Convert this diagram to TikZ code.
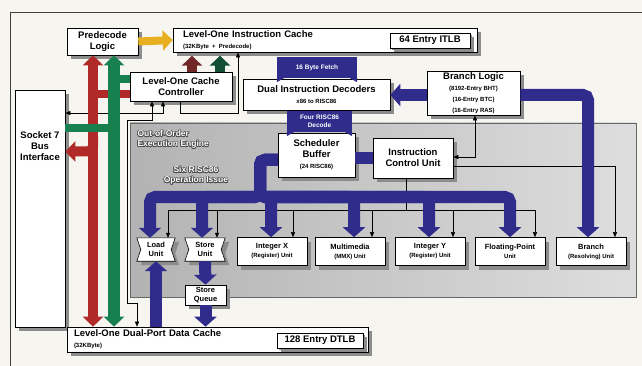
\documentclass[tikz,border=0pt]{standalone}
\usepackage{fontspec}
\setmainfont{Liberation Sans}
\usepackage{contour}
\usetikzlibrary{positioning, arrows.meta, shadows}

\definecolor{paper}{RGB}{247,245,240}
\definecolor{busblue}{RGB}{48,44,140}
\definecolor{redc}{RGB}{176,42,42}
\definecolor{grnc}{RGB}{24,128,78}
\definecolor{dredc}{RGB}{112,40,40}
\definecolor{dgrnc}{RGB}{18,78,50}
\definecolor{gold}{RGB}{232,176,32}

\newcommand{\subfnt}{\fontsize{6}{7.5}\selectfont}
\newcommand{\outl}[1]{\contour{black!70}{#1}}
\contourlength{0.5pt}

\pgfdeclarelayer{bg}
\pgfsetlayers{bg,main}

\tikzset{
  blk/.style={draw=black, line width=0.6pt, fill=white, align=center, inner sep=1pt,
    font=\bfseries\fontsize{9.5}{11}\selectfont,
    drop shadow={shadow xshift=4pt, shadow yshift=-4pt, fill=black!45, opacity=1}},
  thinshadow/.style={drop shadow={shadow xshift=2pt, shadow yshift=-2pt, fill=black!45, opacity=1}},
  unitbox/.style={blk, font=\bfseries\fontsize{7.5}{9}\selectfont, minimum width=70pt, minimum height=28pt},
  notchbox/.style={align=center, inner sep=1pt, font=\bfseries\fontsize{7.5}{9}\selectfont},
  notchfill/.style={draw=black, line width=0.6pt, fill=white,
    drop shadow={shadow xshift=4pt, shadow yshift=-4pt, fill=black!45, opacity=1}},
  banner/.style={fill=busblue, text=white, align=center, inner sep=0pt,
    font=\bfseries\fontsize{6.5}{8}\selectfont},
  engine/.style={draw=black!60, line width=0.6pt, left color=black!30, right color=black!13},
  enginetxt/.style={text=white, align=left, font=\bfseries\fontsize{8.5}{10}\selectfont},
  wire/.style={draw=black, line width=0.5pt, >={Triangle[length=5pt,width=4pt]}},
  bus/.style={draw=busblue, line width=12pt, rounded corners=5pt, >={Triangle[length=10pt,width=22pt]}},
  fat/.style={line width=10pt, >={Triangle[length=10pt,width=20pt]}},
  band/.style={line width=8pt}
}

\begin{document}
\begin{tikzpicture}[x=1pt, y=-1pt]
\begin{pgfonlayer}{bg}
\fill[paper, use as bounding box] (0,0) rectangle (642,366);
\draw[black!75, line width=0.7pt] (642,12) -- (10,12) -- (10,366);
% execution engine
\draw[engine] (130,123) rectangle (636,297);
\end{pgfonlayer}
\node[enginetxt, anchor=north west] (ooo) at (134,127) {\outl{Out-of-Order}\\\outl{Execution Engine}};
\node[enginetxt, align=center] (issue) at (196,176) {\outl{Six RISC86}\\\outl{Operation Issue}};

% front end
\node[blk, minimum width=71pt, minimum height=27pt] (predec) at (102.5,41.5) {Predecode\\Logic};
\node[blk, minimum width=304pt, minimum height=24pt, text width=284pt, align=left, inner xsep=10pt] (icache) at (325,40) {Level-One Instruction Cache\\\subfnt (32KByte + Predecode)};
\node[blk, thinshadow, minimum width=80pt, minimum height=15pt] (itlb) at (430,40.5) {64 Entry ITLB};
\node[banner, minimum width=80pt, minimum height=21pt] (fetch) at (317,67.5) {16 Byte Fetch};
\node[blk, minimum width=147pt, minimum height=31pt] (dec) at (316.5,94.5) {Dual Instruction Decoders\\\subfnt x86 to RISC86};
\node[banner, minimum width=65pt, minimum height=21pt] (four) at (319.5,121.5) {Four RISC86\\Decode};
\node[blk, minimum width=77pt, minimum height=44pt] (sched) at (316.5,155) {Scheduler\\Buffer\\\subfnt (24 RISC86)};
\node[blk, minimum width=80pt, minimum height=40pt] (icu) at (413,158) {Instruction\\Control Unit};
\node[blk, minimum width=93pt, minimum height=44pt] (brl) at (473.5,93) {Branch Logic\\\subfnt (8192-Entry BHT)\\\subfnt (16-Entry BTC)\\\subfnt (16-Entry RAS)};
\node[blk, minimum width=102pt, minimum height=29pt] (ctrl) at (181,86.5) {Level-One Cache\\Controller};
\node[blk, minimum width=50pt, minimum height=237pt] (sock) at (40,208.5) {};
\node[font=\bfseries\fontsize{9.5}{11}\selectfont, align=center] (socktxt) at (40,146) {Socket 7\\Bus\\Interface};

\foreach \b in {fetch, four} {
  \fill[busblue] (\b.south west) -- ++(0,4) -- ++(7,-4) -- cycle;
  \fill[busblue] (\b.south east) -- ++(0,4) -- ++(-7,-4) -- cycle;
}

% execution units
\node[notchbox, minimum width=38pt, minimum height=23pt] (load) at (156,249.5) {Load\\Unit};
\node[notchbox, minimum width=40pt, minimum height=23pt] (store) at (205,249.5) {Store\\Unit};
\begin{pgfonlayer}{bg}
\foreach \u in {load, store}
  \draw[notchfill] (\u.north west) -- (\u.north east) -- ([xshift=-4pt]\u.east)
    -- (\u.south east) -- (\u.south west) -- ([xshift=4pt]\u.west) -- cycle;
\end{pgfonlayer}
\node[unitbox] (intx) at (272,251.5) {Integer X\\\subfnt (Register) Unit};
\node[unitbox] (mmx) at (350,251.5) {Multimedia\\\subfnt (MMX) Unit};
\node[unitbox] (inty) at (430,251.5) {Integer Y\\\subfnt (Register) Unit};
\node[unitbox] (fp) at (510,251.5) {Floating-Point\\\subfnt Unit};
\node[unitbox] (br) at (591,251.5) {Branch\\\subfnt (Resolving) Unit};
\node[unitbox, minimum width=41pt, minimum height=20pt] (squeue) at (205.5,295) {Store\\Queue};

% data cache
\node[blk, minimum width=301pt, minimum height=25pt, text width=287pt, align=left, inner xsep=7pt] (dcache) at (217.5,339.5) {Level-One Dual-Port Data Cache\\\subfnt (32KByte)};
\node[blk, thinshadow, minimum width=86pt, minimum height=15pt] (dtlb) at (320,340.5) {128 Entry DTLB};

% thin control lines
\coordinate (iss) at (406,210);
\draw[wire] ([xshift=-7pt]icu.south) -- (iss);
\foreach \u/\dx in {load/12, store/12, intx/21, mmx/22, inty/23, fp/25}
  \draw[wire, ->] (iss) -| ([xshift=\dx pt]\u.north);
\draw[wire, <->] ([yshift=1pt]icu.east) -| ([xshift=1.5pt]brl.south);
\draw[wire, ->] ([yshift=-8pt]icu.east) -| ([xshift=24pt]br.north);
\draw[wire, <->] ([yshift=95.5pt]sock.east) -| ([xshift=-18pt]ctrl.south);
\draw[wire, <->] ([xshift=-29pt]ctrl.south) |- (127,120) |- (137,303) -- (137,0 |- dcache.north);
\draw[wire, ->] ([xshift=-1pt]ctrl.south) |- ++(58,12) -- ([xshift=-87pt]icache.south);

% RISC86 buses
\draw[bus, ->] ([yshift=-2pt]brl.west) -- ([yshift=-2pt]brl.west -| dec.east);
\draw[bus, ->] ([yshift=-2pt]brl.east) -| ([xshift=-3pt]br.north);
\draw[bus] ([yshift=-3pt]sched.east) -- ([yshift=-3pt]sched.east -| icu.west);
\foreach \u/\dx in {load/-6, store/-3, intx/-1, mmx/4, inty/-1, fp/0}
  \draw[bus, ->] ([yshift=-5pt]sched.west) -| (260,197) -| ([xshift=\dx pt]\u.north);
\draw[bus, ->] (load.south |- dcache.north) -- (load.south);
\draw[bus, ->] (store.south) -- (squeue.north);
\draw[bus, ->] (squeue.south) -- (squeue.south |- dcache.north);

% cache fill paths
\coordinate (redx) at (93,0);
\coordinate (grnx) at (114,0);
\draw[fat, gold, ->, line width=8pt] (predec.east) -- (icache.west);
\draw[band, redc] ([yshift=-7.5pt]ctrl.west) -- ([yshift=-7.5pt]ctrl.west -| redx);
\draw[fat, redc, <->] (redx |- predec.south) -- (redx |- dcache.north);
\draw[fat, redc, ->, rounded corners=6pt] ([yshift=72pt]sock.east -| redx) |- ([yshift=57pt]sock.east);
\draw[band, grnc] ([yshift=7.5pt]ctrl.west) -- ([yshift=7.5pt]ctrl.west -| grnx);
\draw[fat, grnc, <->, line width=12pt] (grnx |- predec.south) -- (grnx |- dcache.north);
\draw[band, grnc] ([yshift=80pt]sock.east) -- ([yshift=80pt]sock.east -| grnx);
\draw[fat, dredc, ->] ([xshift=11pt]ctrl.north) -- ++(0,-16);
\draw[fat, dgrnc, ->] ([xshift=39pt]ctrl.north) -- ++(0,-16);
\end{tikzpicture}
\end{document}
